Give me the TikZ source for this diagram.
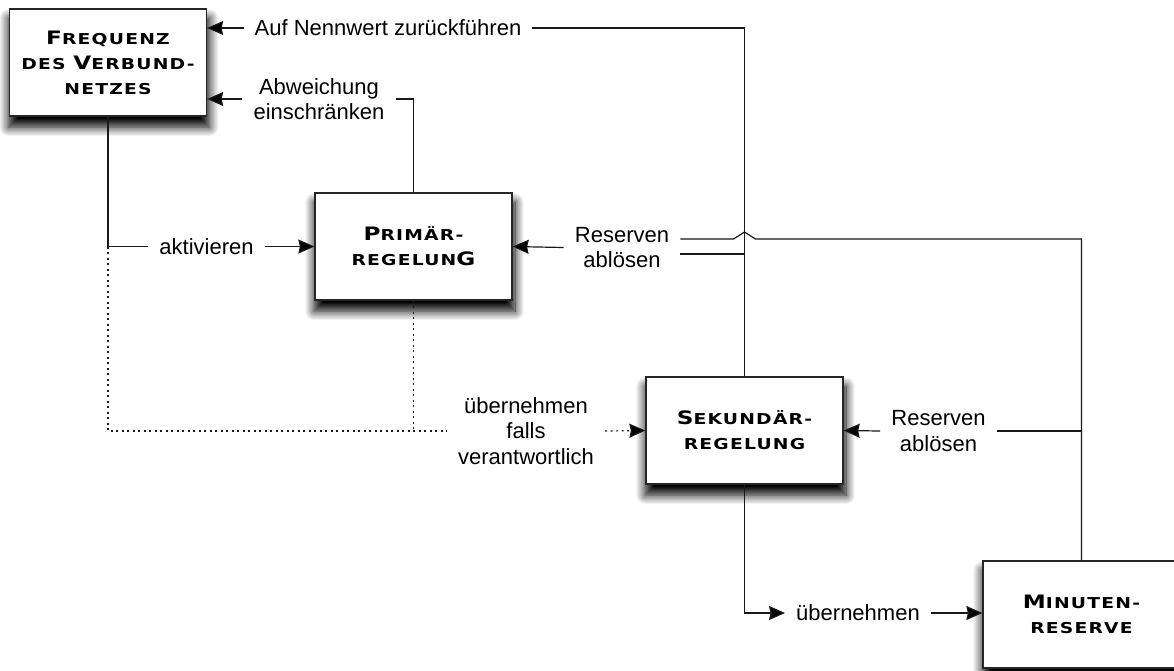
\documentclass[tikz,border=0pt]{standalone}
\usepackage{fontspec}
\setmainfont{Liberation Sans}
\newfontfamily\boxfont{DejaVu Sans}[FakeStretch=1.25,LetterSpace=8]
\usetikzlibrary{arrows.meta,shadows.blur,calc}
\newcommand\BC[1]{{\fontsize{18.5}{20}\selectfont #1}}
\begin{document}
\begin{tikzpicture}[x=1pt,y=-1pt,
  ln/.style={line width=1.2pt, draw=black!90},
  tip/.tip={Stealth[length=16pt,width=14pt,inset=1.5pt,fill=black]},
  arr/.style={ln, -tip},
  dot/.style={ln, dash pattern=on 2pt off 3.5pt},
  box/.style={draw=black!85, line width=1.3pt, fill=white, inner sep=0pt,
    minimum width=197pt, minimum height=107pt, align=center,
    font=\boxfont\bfseries\fontsize{15}{25}\selectfont,
    blur shadow={shadow xshift=1pt, shadow yshift=-10pt, shadow blur radius=9pt, shadow blur steps=12, shadow opacity=100, shadow scale=1.02}},
  lab/.style={font=\fontsize{22}{25.5}\selectfont, align=center, inner xsep=11pt, inner ysep=0pt}]
\useasboundingbox (0,0) rectangle (1174,670);

\node[box] (freq) at (108,62.5) {\BC{F}REQUENZ\\DES \BC{V}ERBUND-\\NETZES};
\node[box] (prim) at (413.5,246.5) {\BC{P}RIMÄR-\\REGELUN\BC{G}};
\node[box] (sek) at (744.5,430.5) {\BC{S}EKUNDÄR-\\REGELUNG};
\node[box] (min) at (1081.5,614.5) {\BC{M}INUTEN-\\RESERVE};

\node[lab] (auf) at (388,28) {Auf Nennwert zurückführen};
\node[lab] (abw) at (319,99) {Abweichung\\einschränken};
\node[lab] (akt) at (206.5,246.5) {aktivieren};
\node[lab] (res1) at (622,247.5) {Reserven\\ablösen};
\node[lab] (ueb1) at (526,431) {übernehmen\\falls\\verantwortlich};
\node[lab] (res2) at (938.5,431) {Reserven\\ablösen};
\node[lab] (ueb2) at (858,613) {übernehmen};

% top
\draw[arr] (auf.west) -- (auf.west -| freq.east);
\draw[ln] (sek.north) -- (sek.north |- auf.east) -- (auf.east);
\draw[arr] (abw.west) -- (abw.west -| freq.east);
\draw[ln] (prim.north) |- (abw.east);
% aktivieren
\coordinate (c1) at (freq.south |- akt.west);
\draw[ln] (freq.south) -- (c1) -- (akt.west);
\draw[arr] (akt.east) -- (prim.west);
% dotted
\coordinate (c2) at (freq.south |- ueb1.west);
\draw[dot] (c1) -- (c2) -- (ueb1.west);
\draw[dot] (prim.south) -- (prim.south |- ueb1.west);
\draw[dot, -tip] (ueb1.east) -- (sek.west);
% Reserven upper
\draw[arr] (res1.west) -- (prim.east);
\coordinate (h1) at ($(res1.east)+(0,-8.5)$);
\coordinate (h2) at ($(res1.east)+(0,6.5)$);
\coordinate (hop) at (sek.north |- h1);
\draw[ln] (min.north) -- (min.north |- h1) -- ($(hop)+(11,0)$) -- ($(hop)+(0,-7)$) -- ($(hop)+(-11,0)$) -- (h1);
\draw[ln] (h2) -- (h2 -| sek.north);
% Reserven lower
\draw[arr] (res2.west) -- (sek.east);
\draw[ln] (res2.east) -- (res2.east -| min.north);
% bottom
\draw[arr] (sek.south) |- (ueb2.west);
\draw[arr] (ueb2.east) -- (ueb2.east -| min.west);
\end{tikzpicture}
\end{document}
